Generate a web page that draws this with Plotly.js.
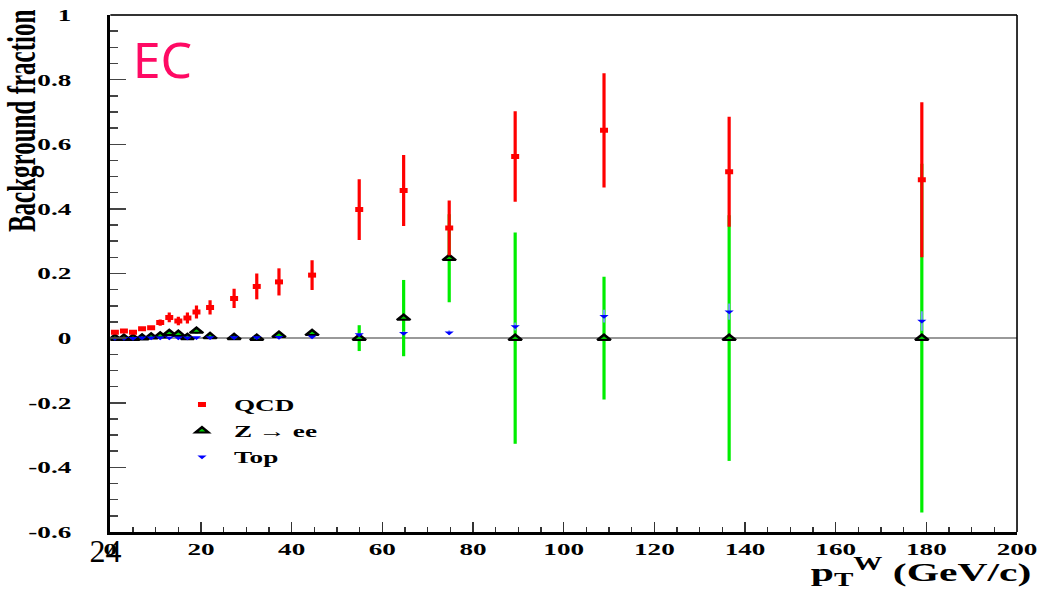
<!DOCTYPE html>
<html>
<head>
<meta charset="utf-8">
<script src="https://cdn.plot.ly/plotly-3.0.1.min.js"></script>
<style>
html,body{margin:0;padding:0;overflow:hidden;background:#fff;}
#plot{width:651px;height:592px;transform:scaleX(1.599078);transform-origin:0 0;}
</style>
</head>
<body>
<div id="plot"></div>
<script>
// ---- data ----
const ptBins = [1, 3, 5, 7, 9, 11, 13, 15, 17, 19, 22, 27.3, 32.3, 37.2, 44.5, 54.9, 64.7, 74.75, 89.3, 108.9, 136.5, 179];
const qcdValues = [0.018, 0.022, 0.018, 0.029, 0.032, 0.048, 0.064, 0.053, 0.062, 0.081, 0.095, 0.123, 0.160, 0.174, 0.195, 0.398, 0.457, 0.341, 0.562, 0.643, 0.515, 0.490];
const qcdErrors = [0.003, 0.003, 0.003, 0.004, 0.004, 0.010, 0.015, 0.013, 0.017, 0.020, 0.022, 0.030, 0.040, 0.042, 0.046, 0.094, 0.110, 0.085, 0.140, 0.177, 0.170, 0.240];
const zeeValues = [0, 0, 0, 0.001, 0.004, 0.007, 0.015, 0.012, 0.002, 0.022, 0.005, 0.002, 0, 0.009, 0.015, 0, 0.062, 0.247, 0, 0, 0, 0];
const zeeErrors = [0.002, 0.002, 0.002, 0.003, 0.003, 0.004, 0.005, 0.006, 0.005, 0.008, 0.006, 0.007, 0.008, 0.008, 0.010, 0.040, 0.118, 0.136, 0.327, 0.190, 0.380, 0.540];
const topValues = [0, 0, 0, 0.001, 0.001, 0.001, 0.001, 0.001, 0.001, 0.002, 0.002, 0.002, 0.002, 0.003, 0.004, 0.011, 0.015, 0.017, 0.036, 0.068, 0.082, 0.053];
const topErrors = [0, 0, 0, 0.001, 0.001, 0.001, 0.001, 0.001, 0.001, 0.001, 0.001, 0.001, 0.002, 0.002, 0.002, 0.005, 0.006, 0.007, 0.012, 0.020, 0.025, 0.030];
const seriesNames = ['QCD', 'Z \u2192 ee', 'Top'];
const yTickVals = [-0.6, -0.4, -0.2, 0, 0.2, 0.4, 0.6, 0.8, 1];
const yTickText = ['-0.6', '-0.4', '-0.2', '0', '0.2', '0.4', '0.6', '0.8', '1'];
const xTitle = 'p<sub>T</sub><sup>W</sup> (GeV/c)';
const yTitle = 'Background fraction';
const panelLabel = 'EC';
const pageNumber = '24';

// ---- geometry helpers (page is stretched horizontally by S) ----
const S = 1041 / 651;
const W = 651, H = 592, ML = 69, MR = 15, MT = 15, MB = 60;
function pxX(fx) { return (fx / S - ML) / (W - ML - MR); }
function pxY(fy) { return (H - MB - fy) / (H - MT - MB); }

const serif = 'Liberation Serif, Times New Roman, serif';

const traces = [
  {
    x: ptBins, y: zeeValues, name: seriesNames[1], mode: 'markers', legendrank: 2, legendgroup: 'z',
    error_y: {type: 'data', array: zeeErrors, color: '#00ee00', thickness: 2, width: 0},
    marker: {symbol: 'triangle-up', size: 7, color: '#00cc00', line: {color: '#000', width: 2}}
  },
  {
    x: ptBins, y: qcdValues, name: seriesNames[0], mode: 'markers', legendrank: 1, legendgroup: 'q',
    error_y: {type: 'data', array: qcdErrors, color: '#ff0000', thickness: 2, width: 0},
    marker: {symbol: 'square', size: 5, color: '#ff0000', line: {width: 0}}
  },
  {
    x: ptBins, y: topValues, name: seriesNames[2], mode: 'markers', legendrank: 3, legendgroup: 't',
    error_y: {type: 'data', array: topErrors, color: '#7799ff', thickness: 1.2, width: 0},
    marker: {symbol: 'triangle-down', size: 5, color: '#0000ff', line: {width: 0}}
  }
];

const tickFont = {family: serif, size: 17, weight: 'bold', color: '#000'};

const layout = {
  width: W, height: H,
  margin: {l: ML, r: MR, t: MT, b: MB, pad: 0},
  paper_bgcolor: '#fff', plot_bgcolor: '#fff',
  showlegend: true,
  legend: {
    x: pxX(170), y: pxY(387), xanchor: 'left', yanchor: 'top',
    bgcolor: 'rgba(0,0,0,0)', borderwidth: 0,
    font: {family: serif, size: 17, weight: 'bold', color: '#000'},
    traceorder: 'grouped', tracegroupgap: 1
  },
  xaxis: {
    range: [0, 200], dtick: 20, tick0: 0,
    showgrid: false, zeroline: false,
    showline: true, linecolor: '#000', linewidth: 3,
    ticks: 'inside', ticklen: 10, tickwidth: 1, tickcolor: '#333',
    minor: {dtick: 5, tick0: 0, ticks: 'inside', ticklen: 5, tickwidth: 1, tickcolor: '#333'},
    tickfont: tickFont, ticklabelstandoff: 0
  },
  yaxis: {
    range: [-0.6, 1], tickmode: 'array', tickvals: yTickVals, ticktext: yTickText,
    showgrid: false, zeroline: true, zerolinecolor: '#999', zerolinewidth: 1.5,
    showline: true, linecolor: '#000', linewidth: 2,
    ticks: 'inside', ticklen: 10, tickwidth: 1.5, tickcolor: '#444',
    minor: {tickmode: 'linear', dtick: 0.05, tick0: 0, ticks: 'inside', ticklen: 5, tickwidth: 1.5, tickcolor: '#444'},
    tickfont: tickFont, ticklabelstandoff: 19
  },
  shapes: [
    {type: 'line', xref: 'paper', yref: 'paper', x0: 0, x1: 1, y0: 1, y1: 1, line: {color: '#333', width: 2}},
    {type: 'line', xref: 'paper', yref: 'paper', x0: 1, x1: 1, y0: 0, y1: 1, line: {color: '#000', width: 1}}
  ],
  annotations: [
    {text: yTitle, xref: 'paper', yref: 'paper', x: pxX(21), y: pxY(121), xanchor: 'center', yanchor: 'middle',
     textangle: -90, showarrow: false, font: {family: serif, size: 25, weight: 'bold', color: '#000'}},
    {text: xTitle, xref: 'paper', yref: 'paper', x: pxX(1034), y: pxY(572), xanchor: 'right', yanchor: 'middle',
     showarrow: false, font: {family: serif, size: 26, weight: 'bold', color: '#000'}},
    {text: panelLabel, xref: 'paper', yref: 'paper', x: pxX(163), y: pxY(59), xanchor: 'center', yanchor: 'middle',
     showarrow: false, font: {family: 'Noto Sans, sans-serif', size: 50, color: '#ff0a64'}},
    {text: pageNumber, xref: 'paper', yref: 'paper', x: pxX(105), y: pxY(551), xanchor: 'center', yanchor: 'middle',
     showarrow: false, font: {family: serif, size: 32, color: '#000'}}
  ]
};

Plotly.newPlot('plot', traces, layout, {displayModeBar: false, responsive: false, staticPlot: true}).then(function (gd) {
  gd.querySelectorAll('.annotation').forEach(function (g) {
    const t = g.textContent.trim();
    if (t === panelLabel || t === pageNumber) {
      g.style.transformBox = 'fill-box';
      g.style.transformOrigin = 'center';
      g.style.transform = 'scaleX(' + (1 / S) + ')';
    }
  });
});
</script>
</body>
</html>
